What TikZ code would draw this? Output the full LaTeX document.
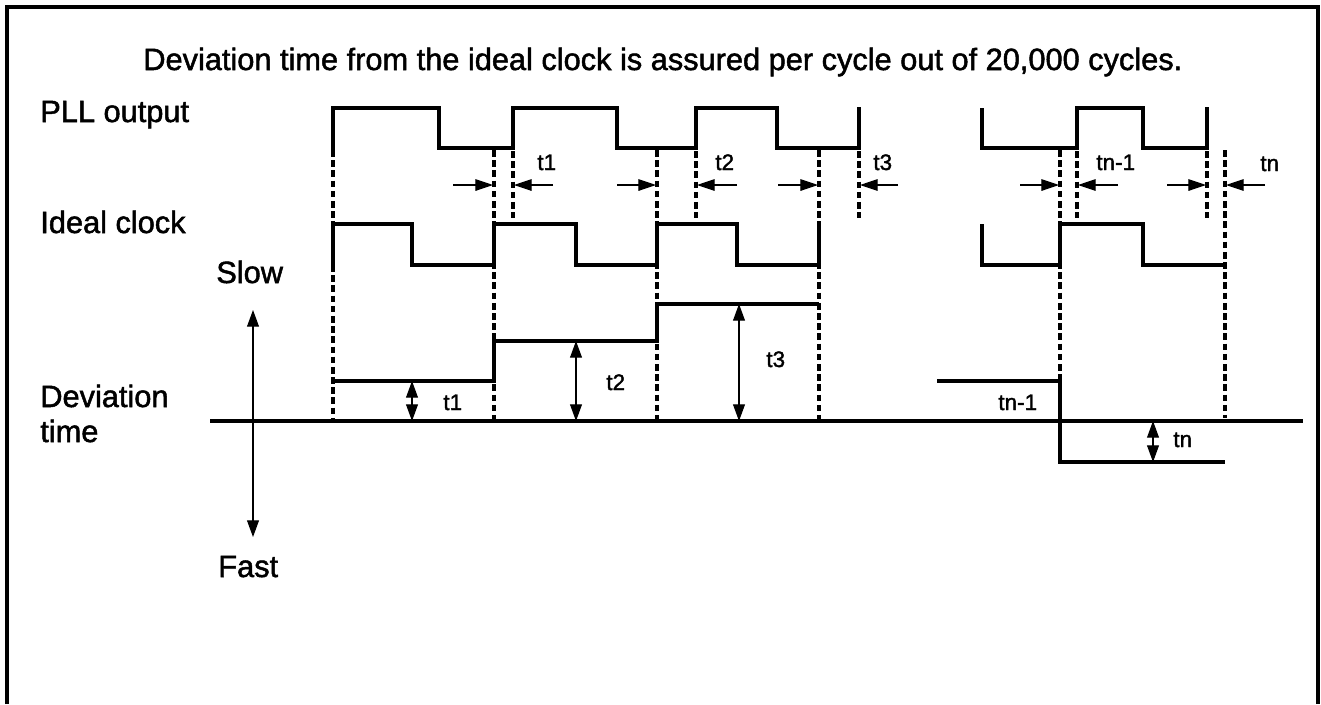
\documentclass[tikz,border=0pt]{standalone}
\usepackage{fontspec}
\setmainfont{Liberation Sans}[FakeBold=1.6]
\usetikzlibrary{arrows.meta}
\tikzset{
  wave/.style={line width=2pt, line join=miter},
  guide/.style={line width=1.9pt, dash pattern=on 3.8pt off 2pt},
  frameline/.style={line width=1.9pt},
  measure/.style={line width=0.6pt, -{Triangle[length=10pt,width=6.6pt]}},
  dmeasure/.style={line width=0.6pt, {Triangle[length=9.5pt,width=6.8pt]}-{Triangle[length=9.5pt,width=6.8pt]}},
  biglabel/.style={inner sep=0pt, anchor=base west, font=\fontsize{17.5}{21}\selectfont},
  smalllabel/.style={inner sep=0pt, anchor=base west, font=\fontsize{12.8}{15}\selectfont},
}
\begin{document}
\begin{tikzpicture}[x=0.02cm,y=-0.02cm]
\useasboundingbox (0,0) rectangle (1321,704);
% frame (open at the bottom)
\draw[frameline] (7,704) -- (7,7) -- (1318,7) -- (1318,704);

% texts
\node[biglabel] (title) at (143,70) {Deviation time from the ideal clock is assured per cycle out of 20,000 cycles.};
\node[biglabel] (pll) at (40,122) {PLL output};
\node[biglabel] (ideal) at (40,233) {Ideal clock};
\node[biglabel] (slow) at (216,283) {Slow};
\node[biglabel] (dev1) at (40,407) {Deviation};
\node[biglabel] (dev2) at (40,442) {time};
\node[biglabel] (fast) at (218,577) {Fast};

% guide (dashed) lines
\foreach \x in {513,696,859,1077,1207}
  \draw[guide] (\x,151) -- (\x,218);
\draw[guide] (333,150) -- (333,224);
\draw[guide] (333,265) -- (333,421);
\foreach \x in {494,657,819}
  \draw[guide] (\x,150) -- (\x,421);
\draw[guide] (1060,150) -- (1060,381);
\draw[guide] (1225,150) -- (1225,418);

% PLL output waveform
\draw[wave] (333,150) -- (333,108) -- (439,108) -- (439,148) -- (513,148) -- (513,108)
  -- (617,108) -- (617,148) -- (696,148) -- (696,108) -- (777,108) -- (777,148)
  -- (859,148) -- (859,107);
\draw[wave] (982,108) -- (982,148) -- (1077,148) -- (1077,108) -- (1143,108)
  -- (1143,148) -- (1207,148) -- (1207,107);

% Ideal clock waveform
\draw[wave] (333,265) -- (333,224) -- (412,224) -- (412,265) -- (494,265) -- (494,224)
  -- (576,224) -- (576,265) -- (657,265) -- (657,224) -- (737,224) -- (737,265)
  -- (819,265) -- (819,224);
\draw[wave] (982,224) -- (982,265) -- (1060,265) -- (1060,224) -- (1143,224)
  -- (1143,265) -- (1225,265);

% Deviation time
\draw[wave] (210,421) -- (1303,421);
\draw[wave] (333,381) -- (494,381) -- (494,341) -- (657,341) -- (657,304) -- (819,304);
\draw[wave] (937,381) -- (1060,381) -- (1060,462) -- (1225,462);

% Slow / Fast arrow
\coordinate (sfTop) at (253,310);
\coordinate (sfBot) at (253,537);
\draw[dmeasure] (sfTop) -- (sfBot);

% deviation measures
\coordinate (m1a) at (412,381); \coordinate (m1b) at (412,421);
\coordinate (m2a) at (576,341); \coordinate (m2b) at (576,421);
\coordinate (m3a) at (739,304); \coordinate (m3b) at (739,421);
\coordinate (mna) at (1153,421); \coordinate (mnb) at (1153,462);
\draw[dmeasure] (m1a) -- (m1b);
\draw[dmeasure] (m2a) -- (m2b);
\draw[dmeasure] (m3a) -- (m3b);
\draw[dmeasure] (mna) -- (mnb);

% top measures (pairs of arrows pointing at the edges)
\foreach \tail/\tip [count=\i] in {453/493,553/514,617/656,737/697,778/818,898/860,1020/1059,1118/1078,1167/1206,1265/1226}{
  \coordinate (ta\i) at (\tail,185);
  \coordinate (tb\i) at (\tip,185);
  \draw[measure] (ta\i) -- (tb\i);
}

% small labels
\node[smalllabel] (lt1) at (537,170) {t1};
\node[smalllabel] (lt2) at (715,170) {t2};
\node[smalllabel] (lt3) at (873,170) {t3};
\node[smalllabel] (ltn1) at (1096,170) {tn-1};
\node[smalllabel] (ltn) at (1260,171) {tn};
\node[smalllabel] (dt1) at (443,410) {t1};
\node[smalllabel] (dt2) at (606,390) {t2};
\node[smalllabel] (dt3) at (766,367) {t3};
\node[smalllabel] (dtn1) at (998,410) {tn-1};
\node[smalllabel] (dtn) at (1173,447) {tn};
\end{tikzpicture}
\end{document}
